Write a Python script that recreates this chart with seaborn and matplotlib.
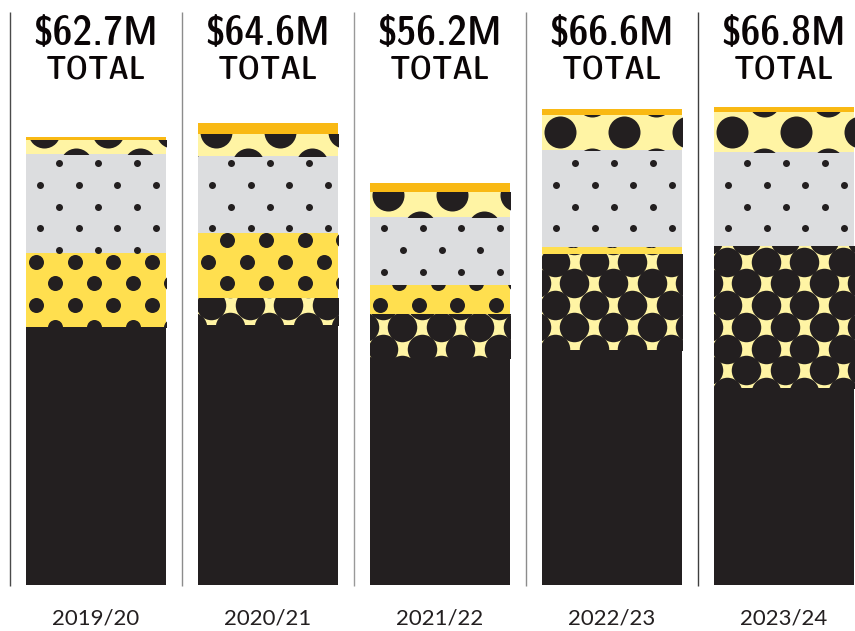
import numpy as np
import pandas as pd
import matplotlib
matplotlib.use("Agg")
import matplotlib.pyplot as plt
from matplotlib import font_manager
import seaborn as sns

# Funding by year, $M, stacked from the bottom up
years = ["2019/20", "2020/21", "2021/22", "2022/23", "2023/24"]
totals = [62.7, 64.6, 56.2, 66.6, 66.8]
base_solid = [36.1, 36.3, 31.8, 32.8, 27.6]      # solid black
dense_circles = [0.0, 3.8, 6.1, 13.5, 19.8]      # black circles on pale yellow
yellow_dots = [10.3, 9.1, 4.0, 1.0, 0.0]         # yellow with medium dots
grey_dots = [13.9, 10.8, 9.5, 13.5, 13.2]        # grey with small dots
pale_big_dots = [2.0, 3.1, 3.5, 5.0, 5.6]        # pale yellow with big dots
orange_cap = [0.4, 1.5, 1.3, 0.8, 0.6]           # thin orange cap

INK = "#231F20"
PALE = "#FFF4A4"

# texture lattices in pixels (y measured from the top of the image)
small_grid = dict(px=38.6, py=21.7)
segments = [
    (base_solid, INK, None),
    (dense_circles, PALE, dict(d=29.5, oy=1.3, ox=13, **small_grid)),
    (yellow_dots, "#FFDF4F", dict(d=15, oy=1.3, ox=10, **small_grid)),
    (grey_dots, "#DCDDDF", dict(d=7, oy=11.4, ox=14, **small_grid)),
    (pale_big_dots, PALE, dict(d=32, px=64, py=31.5, oy=6, ox=18)),
    (orange_cap, "#F9B914", None),
]

W, H, DPI = 855, 631, 100
PX_PER_M = 7.15
BASE_PX = 46          # bar baseline above the bottom edge

sns.set_style("white")
fig = plt.figure(figsize=(W / DPI, H / DPI), dpi=DPI)
ax = fig.add_axes([0, BASE_PX / H, 1, 1 - BASE_PX / H])

bar_w = 140 / 172
bottoms = np.zeros(len(years))
for vals, fill, _ in segments:
    sns.barplot(x=years, y=vals, bottom=bottoms.copy(), color=fill, saturation=1,
                width=bar_w, edgecolor="none", linewidth=0, ax=ax, zorder=2)
    bottoms = bottoms + np.array(vals)

ax.set_xlim(-96 / 172, (W - 96) / 172)
ax.set_ylim(0, (H - BASE_PX) / PX_PER_M)

# dot textures, laid on a pixel lattice and clipped to each segment
fig.canvas.draw()
inv = ax.transData.inverted()
pt_per_px = 72 / DPI
for (vals, fill, pat), cont in zip(segments, ax.containers):
    if pat is None:
        continue
    for rect in cont.patches:
        if rect.get_height() <= 0:
            continue
        (x0, yb), (x1, yt) = ax.transData.transform(
            [(rect.get_x(), rect.get_y()),
             (rect.get_x() + rect.get_width(), rect.get_y() + rect.get_height())])
        top_px, bot_px = H - yt, H - yb
        pts = []
        j0 = int(np.floor((top_px - pat["d"] - pat["oy"]) / pat["py"])) - 1
        j1 = int(np.ceil((bot_px + pat["d"] - pat["oy"]) / pat["py"])) + 1
        for j in range(j0, j1 + 1):
            y_px = pat["oy"] + j * pat["py"]
            shift = (j % 2) * pat["px"] / 2
            for k in range(-2, int((x1 - x0) / pat["px"]) + 3):
                pts.append((x0 + pat["ox"] + shift + k * pat["px"], H - y_px))
        pts = inv.transform(np.array(pts))
        coll = ax.scatter(pts[:, 0], pts[:, 1], s=(pat["d"] * pt_per_px) ** 2,
                          color=INK, linewidths=0, marker="o", zorder=3)
        coll.set_clip_path(rect)

# separators between the years
sep_colors = ["#4a4a4a", "#8c8c8c", "#999999", "#8c8c8c", "#3f3f3f"]
top_sep = (H - BASE_PX - 12) / PX_PER_M
for i, c in enumerate(sep_colors):
    ax.vlines(i - 0.5, -0.15, top_sep, color=c, linewidth=1.0, clip_on=False, zorder=1)

# headline totals in a narrow bold face when one is available
def _weight(f):
    return f.weight if isinstance(f.weight, int) else 400

narrow = None
for f in font_manager.fontManager.ttflist:
    name = f.name.lower()
    is_narrow = any(k in name for k in ("narrow", "condensed", "compressed")) or \
        (isinstance(f.stretch, str) and "condensed" in f.stretch)
    if is_narrow and f.style == "normal" and (_weight(f) >= 600 or narrow is None):
        narrow = f
if narrow is not None:
    head_kw = dict(fontproperties=font_manager.FontProperties(fname=narrow.fname))
    big, small = 30, 23
else:
    head_kw = dict(family=["DejaVu Sans"], fontweight="bold")
    big, small = 24, 21

xtr = ax.get_xaxis_transform()
for i, t in enumerate(totals):
    ax.text(i, 1 - 45 / (H - BASE_PX), f"${t:.1f}M", transform=xtr, ha="center",
            va="baseline", color="#0a0506", **head_kw).set_fontsize(big)
    ax.text(i, 1 - 80 / (H - BASE_PX), "TOTAL", transform=xtr, ha="center",
            va="baseline", color="#0a0506", **head_kw).set_fontsize(small)

ax.set_xlabel("")
ax.set_ylabel("")
ax.set_yticks([])
ax.tick_params(axis="x", length=0, pad=17)
for lab in ax.get_xticklabels():
    lab.set_family(["Lato", "DejaVu Sans"])
    lab.set_fontweight("normal")
    lab.set_fontsize(16)
    lab.set_color(INK)
for s in ax.spines.values():
    s.set_visible(False)
ax.patch.set_alpha(0)

fig.savefig("out.png", dpi=DPI)
